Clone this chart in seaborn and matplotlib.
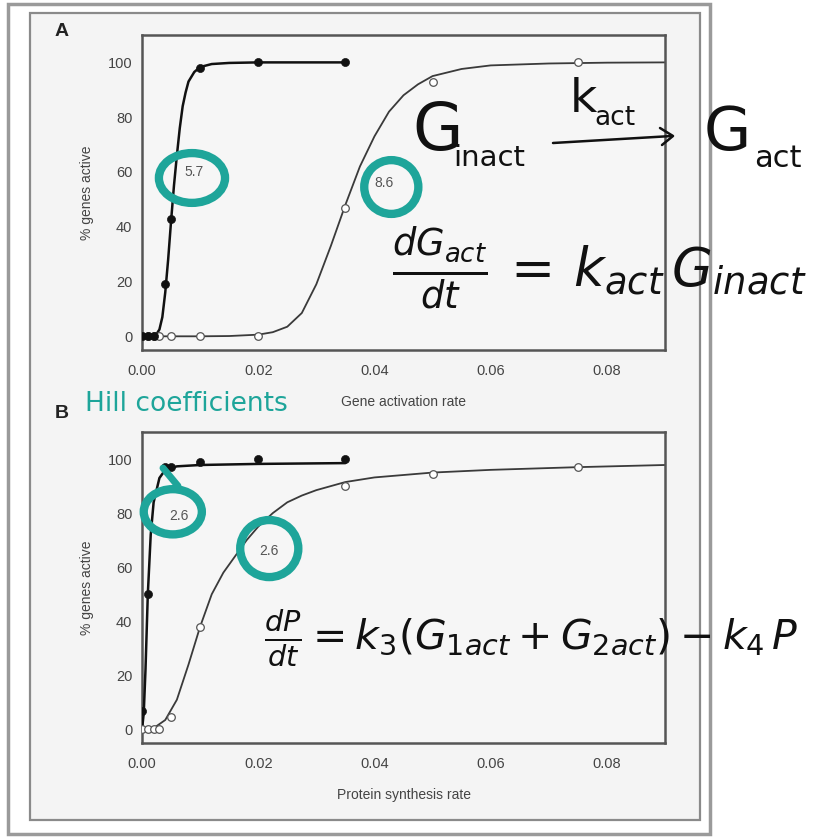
import matplotlib
matplotlib.use("Agg")
import matplotlib.pyplot as plt
import seaborn as sns
from matplotlib.patches import Rectangle, Ellipse

# --- panel A: gene activation rate ---
a_closed_x = [0.000, 0.001, 0.002, 0.004, 0.005, 0.010, 0.020, 0.035]
a_closed_y = [0, 0, 0, 19, 43, 98, 100, 100]
a_open_x = [0.000, 0.001, 0.002, 0.003, 0.005, 0.010, 0.020, 0.035, 0.050, 0.075]
a_open_y = [0, 0, 0, 0, 0, 0, 0, 47, 93, 100]
# fitted curves
a_fit1_x = [0.000, 0.002, 0.0025, 0.003, 0.0035, 0.004, 0.0045, 0.005, 0.0055, 0.006,
            0.0065, 0.007, 0.0075, 0.008, 0.009, 0.010, 0.012, 0.015, 0.020, 0.035]
a_fit1_y = [0, 0, 0.8, 2.5, 7, 16, 28, 42, 55, 66, 76, 84, 89, 93, 96.5, 98.3, 99.4, 99.8, 100, 100]
a_fit2_x = [0.000, 0.010, 0.015, 0.020, 0.0225, 0.025, 0.0275, 0.030, 0.0325, 0.035,
            0.0375, 0.040, 0.0425, 0.045, 0.0475, 0.050, 0.055, 0.060, 0.070, 0.080, 0.090]
a_fit2_y = [0, 0, 0.1, 0.6, 1.5, 3.5, 8.5, 19, 33, 48, 62, 73, 82, 88, 92, 95, 97.6, 98.9, 99.6, 99.9, 100]

# --- panel B: protein synthesis rate ---
b_closed_x = [0.000, 0.001, 0.004, 0.005, 0.010, 0.020, 0.035]
b_closed_y = [7, 50, 97, 97, 99, 100, 100]
b_open_x = [0.000, 0.001, 0.002, 0.003, 0.005, 0.010, 0.035, 0.050, 0.075]
b_open_y = [0, 0, 0, 0, 4.5, 38, 90, 94.5, 97]
b_fit1_x = [0.000, 0.0003, 0.0006, 0.001, 0.0015, 0.002, 0.003, 0.004, 0.006, 0.010, 0.020, 0.035]
b_fit1_y = [0, 6, 22, 50, 72, 84, 93, 96, 97.3, 97.8, 98.2, 98.5]
b_fit2_x = [0.000, 0.002, 0.004, 0.006, 0.008, 0.010, 0.012, 0.014, 0.016, 0.018, 0.020,
            0.0225, 0.025, 0.0275, 0.030, 0.035, 0.040, 0.050, 0.060, 0.075, 0.090]
b_fit2_y = [0, 0.5, 3.5, 11, 24, 38, 50, 58, 64, 70, 75,
            80, 84, 86.5, 88.5, 91.5, 93.2, 95, 96, 97, 97.8]

x_ticks = [0.00, 0.02, 0.04, 0.06, 0.08]
y_ticks = [0, 20, 40, 60, 80, 100]

# Hill coefficient labels and the teal rings drawn round them
hill_a = [("5.7", 0.0090, 60), ("8.6", 0.0417, 56)]
ring_a = [(0.0086, 57.8, 66, 50), (0.0429, 54.5, 54, 54)]
hill_b = [("2.6", 0.0063, 79), ("2.6", 0.0219, 66)]
ring_b = [(0.0053, 80.5, 58, 46), (0.0219, 66.9, 58, 58)]

TEAL = "#1ea59a"
W, H = 821, 838

sns.set_theme(style="white")
plt.rcParams["font.family"] = ["Liberation Sans", "DejaVu Sans"]
plt.rcParams["mathtext.fontset"] = "dejavusans"

fig = plt.figure(figsize=(W / 100, H / 100), dpi=100)
fig.patch.set_facecolor("white")


def fx(x):
    return x / W


def fy(y):
    return 1 - y / H


# photo frame
fig.add_artist(Rectangle((fx(8), fy(834)), fx(710) - fx(8), fy(4) - fy(834),
                         transform=fig.transFigure, facecolor="white",
                         edgecolor="#9a9a9a", lw=2.5, zorder=0))
fig.add_artist(Rectangle((fx(30), fy(820)), fx(700) - fx(30), fy(13) - fy(820),
                         transform=fig.transFigure, facecolor="#f4f4f4",
                         edgecolor="#8a8a8a", lw=1.6, zorder=0))

ax_a = fig.add_axes([fx(142), fy(350), fx(665) - fx(142), fy(35) - fy(350)])
ax_b = fig.add_axes([fx(142), fy(743), fx(665) - fx(142), fy(432) - fy(743)])

panels = [
    (ax_a, a_fit1_x, a_fit1_y, a_fit2_x, a_fit2_y, a_closed_x, a_closed_y,
     a_open_x, a_open_y, "Gene activation rate", hill_a, ring_a),
    (ax_b, b_fit1_x, b_fit1_y, b_fit2_x, b_fit2_y, b_closed_x, b_closed_y,
     b_open_x, b_open_y, "Protein synthesis rate", hill_b, ring_b),
]

for (ax, f1x, f1y, f2x, f2y, cx, cy, ox, oy, xlabel, hills, rings) in panels:
    ax.set_facecolor("#f6f6f6")
    sns.lineplot(x=f2x, y=f2y, ax=ax, color="#3a3a3a", lw=1.3, zorder=2)
    sns.lineplot(x=f1x, y=f1y, ax=ax, color="#111111", lw=1.8, zorder=3)
    sns.scatterplot(x=ox, y=oy, ax=ax, s=30, facecolor="white",
                    edgecolor="#555555", linewidth=0.9, zorder=4)
    sns.scatterplot(x=cx, y=cy, ax=ax, s=34, color="#111111",
                    edgecolor="#111111", zorder=5)
    ax.set_xlim(0, 0.09)
    ax.set_ylim(-5, 110)
    ax.set_xticks(x_ticks)
    ax.set_xticklabels([f"{t:.2f}" for t in x_ticks])
    ax.set_yticks(y_ticks)
    ax.tick_params(axis="y", direction="out", length=4, width=1, color="#666666",
                   labelsize=10.5, labelcolor="#444444", pad=3)
    ax.tick_params(axis="x", direction="in", length=4, width=1, color="#888888",
                   labelsize=10.5, labelcolor="#444444", pad=10)
    for sp in ax.spines.values():
        sp.set_color("#555555")
        sp.set_linewidth(1.8)
    ax.set_ylabel("% genes active", fontsize=10, color="#444444", labelpad=10)
    ax.set_xlabel(xlabel, fontsize=10, color="#444444", labelpad=12)

    for label, hx, hy in hills:
        ax.text(hx, hy, label, fontsize=10, color="#555555",
                ha="center", va="center", zorder=6)
    for rx, ry, rw, rh in rings:
        ax.add_patch(Ellipse((rx, ry), rw / 5800, rh / 2.75, facecolor="none",
                             edgecolor=TEAL, lw=6, zorder=7, clip_on=False))

fig.text(fx(55), fy(32), "A", fontsize=14, fontweight="bold", color="#222222",
         va="center")
fig.text(fx(55), fy(414), "B", fontsize=14, fontweight="bold", color="#222222",
         va="center")

# teal handwriting
fig.text(fx(85), fy(404), "Hill coefficients", fontsize=19, color=TEAL,
         va="center", family=["DejaVu Sans"])
# little tail on the upper-left ring in panel B
fig.add_artist(plt.Line2D([fx(163), fx(178)], [fy(468), fy(486)],
                          transform=fig.transFigure, color=TEAL, lw=5))

# black handwriting: reaction scheme
ink = "#111111"
hand = ["DejaVu Sans"]
fig.text(fx(412), fy(150), "G", fontsize=47, color=ink, family=hand, va="baseline")
fig.text(fx(453), fy(166), "inact", fontsize=21, color=ink, family=hand, va="baseline")
fig.text(fx(570), fy(112), "k", fontsize=34, color=ink, family=hand, va="baseline")
fig.text(fx(594), fy(125), "act", fontsize=19, color=ink, family=hand, va="baseline")
fig.add_artist(plt.Line2D([fx(553), fx(672)], [fy(143), fy(136)],
                          transform=fig.transFigure, color=ink, lw=1.8))
fig.add_artist(plt.Line2D([fx(660), fx(673), fx(662)], [fy(128), fy(136), fy(145)],
                          transform=fig.transFigure, color=ink, lw=1.8))
fig.text(fx(704), fy(150), "G", fontsize=44, color=ink, family=hand, va="baseline")
fig.text(fx(754), fy(167), "act", fontsize=22, color=ink, family=hand, va="baseline")

# rate equations
fig.text(fx(392), fy(268), r"$\frac{dG_{act}}{dt}\,=\,k_{act}\,G_{inact}$",
         fontsize=38, color=ink, va="center")
fig.text(fx(264), fy(638), r"$\frac{dP}{dt}=k_3(G_{1act}+G_{2act})-k_4\,P$",
         fontsize=29.5, color=ink, va="center")

fig.savefig("out.png", dpi=100)
